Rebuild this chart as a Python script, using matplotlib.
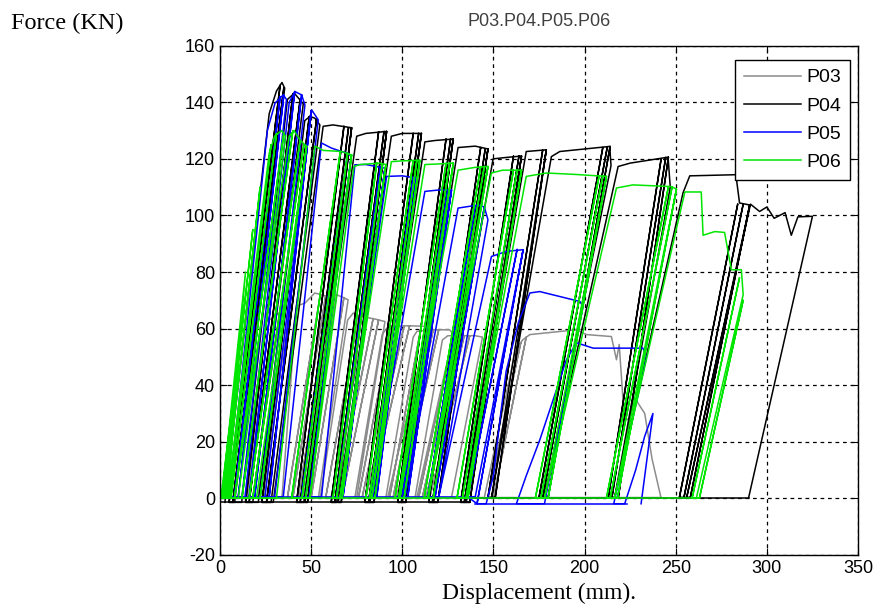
import numpy as np
import matplotlib.pyplot as plt

plt.rcParams['axes.unicode_minus'] = False

# one cycle = (x where loading starts at F~0, plateau points (x, F), x where unloading ends,
#              reloading lines (x start, x top, F top))
p03_cyc = [
    (15, [(27, 63), (31, 65), (36.6, 67), (38, 68)], 22, [(18, 33, 66), (21, 36, 67), (24, 38, 68)]),
    (34, [(42, 68), (46.6, 69), (52, 72.6), (57.6, 71.6), (64, 72), (70.3, 70.2)], 54,
     [(37, 55, 72), (40, 58, 71.6), (43, 61, 72), (46, 64, 72), (50, 68, 71)]),
    (55, [(70, 63), (73.1, 65.5), (77.7, 64.3), (85, 63.4), (90.5, 62.5)], 75,
     [(58, 76, 64.5), (61, 80, 64), (64, 84, 63.5), (67, 87, 63)]),
    (74, [(89, 58), (92.3, 60.8), (103.3, 61), (114.2, 60.8)], 92,
     [(76, 94, 61), (78, 98, 61), (80, 101, 61), (82, 104, 61)]),
    (91, [(106, 57), (108, 59), (115.5, 59.6), (126, 59.6), (128, 58)], 108,
     [(93, 110, 59.5), (95, 113, 59.6), (97, 117, 59.6), (99, 120, 59.6)]),
    (107, [(122, 56), (125, 57.5), (130, 57.5), (140, 57.5), (144, 57)], 127,
     [(109, 128, 57.5), (111, 131, 57.5), (113, 134, 57.5), (115, 137, 57.5)]),
    (145, [(162, 52), (166, 56), (170, 57.9), (195.6, 59.6), (201, 57.9), (214.7, 57.2), (217.5, 49),
           (219, 54.4), (221.8, 28), (226, 28), (228, 35), (233, 30), (237, 14), (242, 0)], 242,
     [(147, 165, 55), (150, 168, 57)]),
]
p03_base = [(0, 242, 0.3)]

p04_cyc = [
    (2.7, [(27, 136), (31, 144), (34, 147), (35.5, 145)], 8, [(5, 33, 146), (7, 35, 145)]),
    (11.9, [(37, 141), (40.8, 143.2), (43, 141.5), (45.7, 139.5)], 18, [(14, 40, 143), (16, 44, 141)]),
    (21, [(46.5, 133.5), (49.3, 135), (52, 134.4), (54.8, 132)], 28, [(23, 49, 135), (25.5, 53, 134)]),
    (29.2, [(56.6, 131.5), (62, 132), (72.2, 131)], 46, [(42, 68, 131.5), (44, 70.5, 131), (48, 72.2, 131)]),
    (46.6, [(75, 128), (80, 129), (91.4, 129.7)], 64, [(61, 87, 129.5), (63, 90, 129.7), (66.5, 91.4, 129.7)]),
    (64.9, [(94, 128), (100, 129), (110.5, 129)], 82, [(79.5, 106, 129), (81.5, 109, 129), (84.5, 110.5, 129)]),
    (82.2, [(112.4, 126), (118, 126.5), (127.9, 127)], 100, [(97.5, 124, 127), (99.5, 126.5, 127), (102, 127.9, 127)]),
    (99.6, [(130.6, 124), (140, 124.5), (147, 123.5)], 117, [(114.5, 143, 124), (116.5, 145.5, 123.5), (119.5, 147, 123.5)]),
    (117, [(149.8, 120), (157, 120.5), (165.4, 121)], 135, [(132, 161, 121), (134, 164, 121), (137, 165.4, 121)]),
    (135, [(168, 122.6), (179, 123.2)], 149, [(147, 177, 123), (151, 179, 123.2)]),
    (149, [(181.8, 120.8), (186.4, 122.6), (200, 123.5), (213.8, 124.4), (214.5, 117.6)], 178,
     [(175, 210, 124), (177, 212.5, 124.3), (180, 214, 124.4)]),
    (178, [(218.4, 117.3), (225, 118.5), (245.8, 120.6), (247, 110)], 216.5,
     [(213, 242, 120), (215, 244.5, 120.5), (218.5, 246, 120.6)]),
    (216.5, [(254, 108), (257.7, 114), (283, 114.4), (285, 104.4), (290.6, 103.7)], 256,
     [(252, 284, 104), (254.5, 287, 104), (258, 290.6, 103.7)]),
    (256, [(291, 104), (296, 101.4), (300, 103), (304, 99), (310, 101), (313.4, 93), (317, 99.5), (325, 99.7)], 290, []),
]
p04_base = [(0, 137, -1.4), (137, 290, 0.3)]

p05_cyc = [
    (5, [(26, 130), (30.2, 139.7), (34.7, 142.6), (36.5, 141)], 12, [(8, 33, 142), (10, 35, 142.5)]),
    (13.7, [(38, 140), (41.1, 143.8), (44.8, 142.6), (46.6, 139)], 22, [(16, 41, 143.8), (19, 44.8, 142.6)]),
    (24.7, [(50.3, 137.3), (53.9, 133.8)], 30, [(27, 50, 137)]),
    (34.7, [(55.7, 125.6), (61.2, 123.8), (66.7, 122.6), (70.3, 122), (72, 120.8)], 47, [(44.8, 70, 122), (49, 72, 120.8)]),
    (55.7, [(74, 117.9), (80, 118), (90.5, 116.7)], 66, [(64, 88, 117), (67.5, 90.5, 116.7)]),
    (66.7, [(91.4, 113.8), (100, 114), (107.8, 113.2)], 84, [(83.2, 106, 113.5), (86, 107.8, 113.2)]),
    (83.2, [(112.4, 108.5), (120, 109), (127, 109)], 101.4, [(100, 125, 109), (103, 127, 109)]),
    (101.4, [(130.6, 102.6), (141.6, 103.7), (145, 103), (147, 98.5)], 120, [(114, 140, 103.5), (118, 145, 103)]),
    (120, [(148.9, 85.5), (157.2, 87.3), (166.3, 87.9)], 140, [(136, 163, 88), (141, 166.3, 87.9)]),
    (146, [(150, 8), (154, 30), (157, 45), (163.6, 62), (170, 72.6), (175.4, 73.1), (197.4, 69.6), (199.2, 67.8)], 178, []),
    (162.6, [(168, 8), (175.4, 20.6), (184.6, 38.4), (190, 49), (195.6, 55), (204.7, 53.1), (232, 53.1), (234, 50)], 216, []),
    (222, [(228, 10), (233, 22), (237.5, 30)], 231, []),
]
p05_base = [(0, 140, 0.5), (140, 223, -1.9)]

p06_cyc = [
    (0.5, [(10, 50)], 2, [(1, 12, 62)]),
    (1, [(14, 80)], 4, [(2, 18, 95), (3, 22, 110)]),
    (4, [(27, 122), (30, 128), (33.8, 130), (36, 128)], 10, [(5, 28, 125), (6, 31, 129), (8, 35, 129)]),
    (8, [(38, 128), (40.6, 130), (43.9, 126.6), (47.5, 124.5)], 20,
     [(12, 40, 130), (16, 44, 126.6), (18, 46, 125), (22, 47.5, 124.5)]),
    (31, [(52, 124.5), (56.6, 123), (66.7, 122.6), (72.2, 121.4)], 49.3,
     [(39.3, 66, 122.6), (45, 70, 122), (47, 72.2, 121.4)]),
    (49.3, [(73.5, 117.3), (76.8, 118), (87.7, 118.5), (91, 118)], 65.8,
     [(62, 86, 118.5), (64, 89, 118.2), (67, 91, 118)]),
    (65.8, [(94, 119), (100, 119.3), (109.6, 119.5)], 83.2,
     [(80, 106, 119.4), (82, 108, 119.5), (85, 109.6, 119.5)]),
    (83.2, [(112.4, 118), (120, 118.2), (128, 118.5)], 98.7,
     [(96, 124, 118.4), (98, 126, 118.5), (101, 128, 118.5)]),
    (98.7, [(130.6, 116), (140, 117), (147, 117.3)], 114.2,
     [(112, 143, 117.2), (114, 145, 117.3), (117, 147, 117.3)]),
    (114.2, [(148.9, 115), (155, 116), (165.4, 116)], 135,
     [(130, 161, 116), (133, 163, 116), (136, 165.4, 116)]),
    (135, [(168, 113.8), (179, 115), (195, 114.5), (212, 113.8)], 178,
     [(173, 208, 114), (176, 210, 113.9), (180, 212, 113.8)]),
    (178, [(217.5, 109.7), (226.5, 110.8), (247.6, 110.2), (250.4, 109.3)], 216.5,
     [(212, 246, 110.2), (214, 248, 110), (218, 250.4, 109.3)]),
    (216.5, [(255, 108.3), (264, 108.3), (265, 93), (271.4, 94.3), (276.8, 94), (280.5, 80.8), (286, 80.8), (287, 72)], 261.3,
     [(259, 285, 78), (263, 287, 70)]),
]
p06_base = [(0, 262, 0.1)]

names = ['P03', 'P04', 'P05', 'P06']
colors = ['#8c8c8c', 'black', 'blue', '#00e600']


def level(base, x):
    for x0, x1, y in base:
        if x0 <= x <= x1:
            return y
    return base[-1][2]


def path(cycles, base):
    xs, ys = [], []
    for x0, top, x1, reps in cycles:
        xs.append(x0); ys.append(level(base, x0))
        for px, py in top:
            xs.append(px); ys.append(py)
        xs.append(x1); ys.append(level(base, x1))
        for xa, xt, ft in reps:
            xs += [xa, xt, xa]
            ys += [level(base, xa), ft, level(base, xa)]
    return xs, ys


fig = plt.figure(figsize=(8.75, 6.15), dpi=100)
ax = fig.add_axes([0.2514, 0.0976, 0.7292, 0.8281])

sans = 'Liberation Sans'
for cyc, base, name, c in zip([p03_cyc, p04_cyc, p05_cyc, p06_cyc],
                              [p03_base, p04_base, p05_base, p06_base], names, colors):
    xs, ys = path(cyc, base)
    ax.plot(xs, ys, color=c, lw=1.1, label=name)
    for x0, x1, y in base:
        ax.plot([x0, x1], [y, y], color=c, lw=1.1)

ax.set_xlim(0, 350)
ax.set_ylim(-20, 160)
ax.set_xticks(np.arange(0, 351, 50))
ax.set_yticks(np.arange(-20, 161, 20))
ax.grid(True, color='k', ls=(0, (3, 3)), lw=0.9)
ax.tick_params(direction='in', length=5, top=True, right=True, labelsize=13)
for lab in ax.get_xticklabels() + ax.get_yticklabels():
    lab.set_family(sans)
for s in ax.spines.values():
    s.set_linewidth(1.0)

ax.set_xlabel('Displacement (mm).', family='Liberation Serif', fontsize=17, labelpad=4)
ax.set_title('P03.P04.P05.P06', family=sans, fontsize=13, color='#404040', pad=14)
fig.text(0.077, 0.962, 'Force (KN)', family='Liberation Serif', fontsize=17.5,
         ha='center', va='center')

leg = ax.legend(loc='upper right', bbox_to_anchor=(0.9875, 0.972), fancybox=False,
                framealpha=1, edgecolor='k', handlelength=2.9, handletextpad=0.3,
                labelspacing=0.55, borderaxespad=0, borderpad=0.45,
                prop={'family': sans, 'size': 14})
leg.get_frame().set_linewidth(1.0)

fig.savefig('out.png', dpi=100)
